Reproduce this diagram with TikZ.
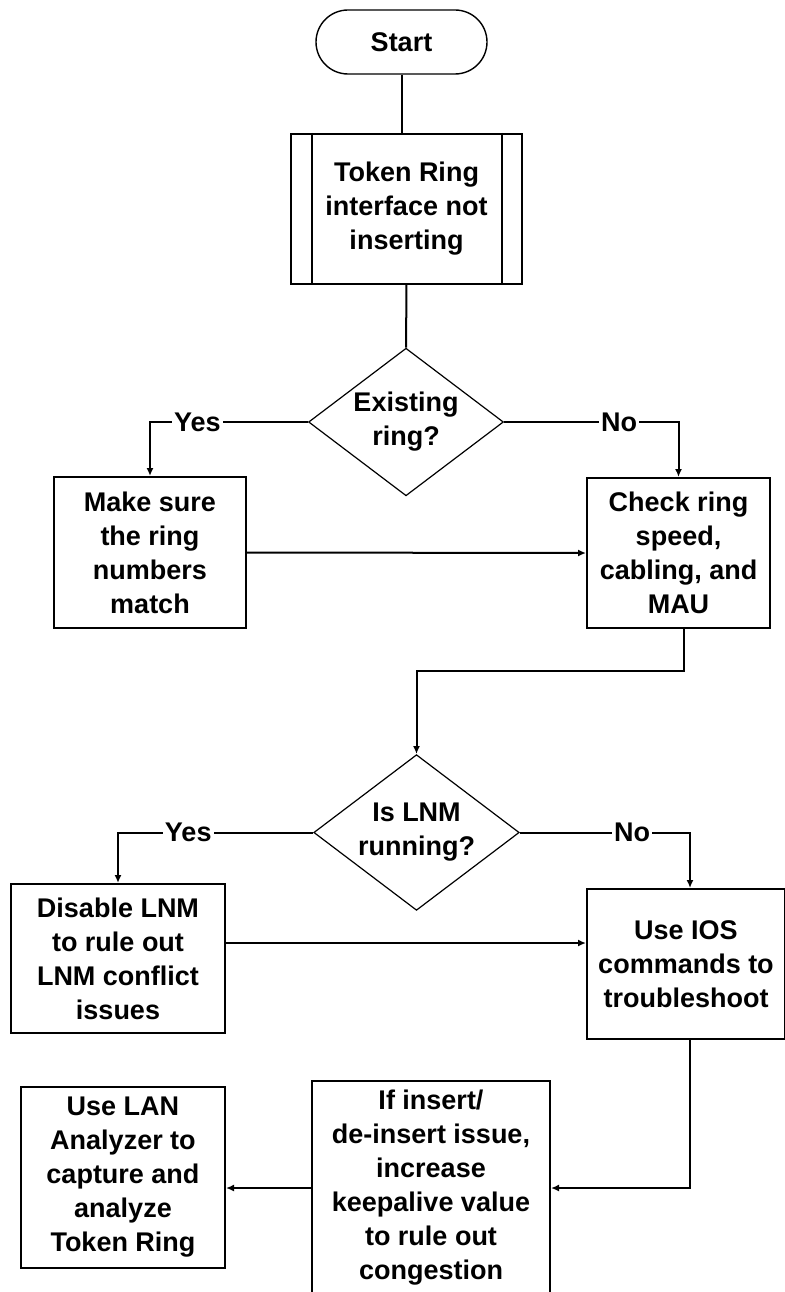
\documentclass[tikz,border=0pt]{standalone}
\usepackage{fontspec}
\setmainfont{Liberation Sans}
\usetikzlibrary{shapes.geometric,arrows.meta}

\begin{document}
\begin{tikzpicture}[x=1pt,y=-1pt,
  font=\bfseries\fontsize{27}{34}\selectfont,
  >={Latex[length=8pt,width=7pt]},
  line width=2pt,
  box/.style={draw,rectangle,align=center,inner sep=0pt},
  decision/.style={draw,diamond,align=center,inner sep=2.5pt,aspect=1.32,line width=1.2pt},
  answer/.style={fill=white,inner sep=2pt}]
\useasboundingbox (0,0) rectangle (784,1292);

\node[draw,rounded corners=32pt,minimum width=171pt,minimum height=64pt,inner sep=0pt,line width=1.4pt] (start) at (401.5,42) {Start};
\node[box,minimum width=231pt,minimum height=150pt] (trif) at (406.5,209) {Token Ring\\interface not\\inserting};
\draw ([xshift=22pt]trif.north west) -- ([xshift=22pt]trif.south west);
\draw ([xshift=-21pt]trif.north east) -- ([xshift=-21pt]trif.south east);

\node[decision] (ring) at (406,422) {Existing\\ring?};
\node[box,minimum width=192pt,minimum height=151pt] (sure) at (150,552.5) {Make sure\\the ring\\numbers\\match};
\node[box,minimum width=183pt,minimum height=150pt] (check) at (678.5,553) {Check ring\\speed,\\cabling, and\\MAU};

\node[decision] (lnm) at (416.5,832.5) {Is LNM\\running?};
\node[box,minimum width=214pt,minimum height=149pt] (disable) at (118,958.5) {Disable LNM\\to rule out\\LNM conflict\\issues};
\node[box,minimum width=198pt,minimum height=150pt] (ios) at (686,964) {Use IOS\\commands to\\troubleshoot};

\node[box,minimum width=238pt,minimum height=214pt] (keep) at (431,1188) {If insert/\\de-insert issue,\\increase\\keepalive value\\to rule out\\congestion};
\node[box,minimum width=204pt,minimum height=181pt] (lan) at (123,1177.5) {Use LAN\\Analyzer to\\capture and\\analyze\\Token Ring};

% connectors
\draw (start) -- (start |- trif.north);
\draw (trif) -- (ring);
\draw[->] (ring.west) -| node[answer,pos=.35] {Yes} (sure.north);
\draw[->] (ring.east) -| node[answer,pos=.33] {No} (check.north);
\draw[->] (sure.east) -- (check.west);
\draw[->] ([xshift=5.5pt]check.south) -- ++(0,42) -| (lnm.north);
\draw[->] (lnm.west) -| node[answer,pos=.32] {Yes} (disable.north);
\draw[->] (lnm.east) -| node[answer,pos=.33] {No} ([xshift=4pt]ios.north);
\draw[->] ([yshift=15.5pt]disable.east) -- ([yshift=15.5pt]disable.east -| ios.west);
\draw[->] ([xshift=4pt]ios.south) |- (keep.east);
\draw[->] (keep.west) -- (keep.west -| lan.east);

\end{tikzpicture}
\end{document}
